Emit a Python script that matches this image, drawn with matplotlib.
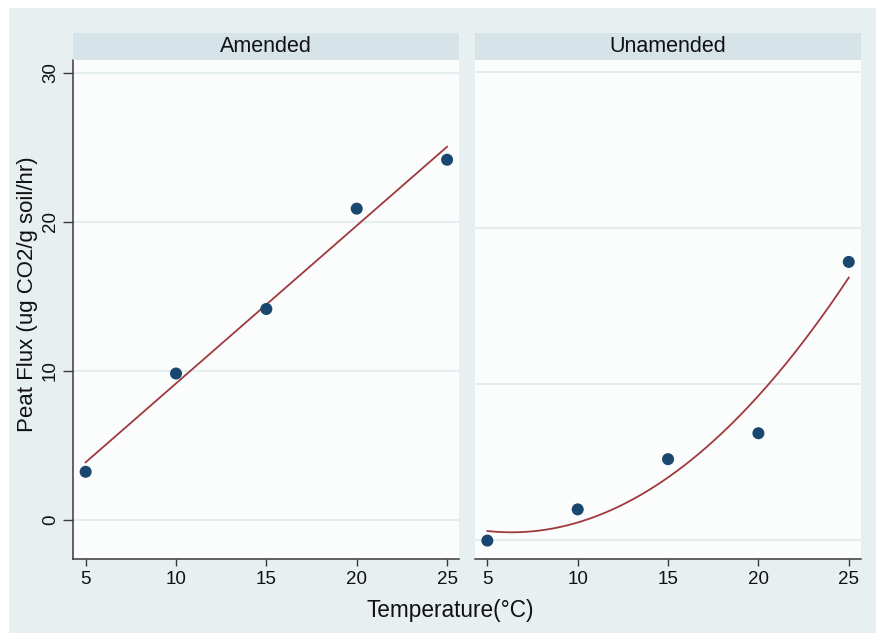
import numpy as np
import matplotlib.pyplot as plt
from matplotlib.patches import Rectangle

plt.rcParams["font.family"] = ["Liberation Sans", "DejaVu Sans"]

# ── Data ──────────────────────────────────────────────────────────────────────
temperature = [5, 10, 15, 20, 25]
amended_flux = [3.23, 9.82, 14.15, 20.88, 24.16]
unamended_flux = [-0.02, 0.98, 2.59, 3.42, 8.91]   # right panel has no y labels
panel_titles = ["Amended", "Unamended"]
x_ticks = [5, 10, 15, 20, 25]
left_yticks = [0, 10, 20, 30]
right_ygrid = [0, 5, 10, 15]

# ── Style ─────────────────────────────────────────────────────────────────────
BG = "#e8eff0"
STRIP = "#d6e4ea"
PLOT_BG = "#fbfcfc"
GRID = "#e4edf0"
NAVY = "#1a476f"
MAROON = "#a0393e"
AXIS = "#3a3a3a"

W, H = 876, 633
fig = plt.figure(figsize=(W / 100, H / 100), dpi=100, facecolor="white")
fig.patches.append(Rectangle((9 / W, 0), 1 - 9 / W, 1 - 8 / H,
                             transform=fig.transFigure, facecolor=BG,
                             edgecolor="none", zorder=-10))

bottom = 1 - 558.7 / H
top = 1 - 60 / H
strip_top = 1 - 33 / H
panels = [(73 / W, 459 / W), (474.7 / W, 860.7 / W)]

axes = []
for (x0, x1) in panels:
    ax = fig.add_axes([x0, bottom, x1 - x0, top - bottom])
    ax.set_facecolor(PLOT_BG)
    axes.append(ax)
    # strip title
    sax = fig.add_axes([x0, top, x1 - x0, strip_top - top])
    sax.set_facecolor(STRIP)
    sax.set_xticks([])
    sax.set_yticks([])
    for s in sax.spines.values():
        s.set_visible(False)
    sax.text(0.5, 0.5, panel_titles[len(axes) - 1], ha="center", va="center",
             fontsize=15.5, color="#111111", transform=sax.transAxes)

xx = np.linspace(5, 25, 200)
for ax, flux, deg in [(axes[0], amended_flux, 1), (axes[1], unamended_flux, 2)]:
    coef = np.polyfit(temperature, flux, deg)
    ax.plot(xx, np.polyval(coef, xx), color=MAROON, lw=1.3, zorder=2)
    ax.scatter(temperature, flux, s=75, color=NAVY, zorder=3, edgecolors="none")
    ax.set_xlim(4.3, 25.66)
    ax.set_xticks(x_ticks)
    ax.tick_params(axis="x", length=5, width=1, color=AXIS, labelsize=13.5,
                   pad=4, labelcolor="#111111")
    for side in ["top", "right"]:
        ax.spines[side].set_visible(False)
    ax.spines["bottom"].set_color(AXIS)
    ax.spines["bottom"].set_linewidth(1.1)
    ax.spines["left"].set_color(AXIS)
    ax.spines["left"].set_linewidth(1.1)
    ax.grid(axis="y", color=GRID, lw=1.5, zorder=0)
    ax.set_axisbelow(True)

# left panel y axis
axes[0].set_ylim(-2.6, 30.85)
axes[0].set_yticks(left_yticks)
axes[0].tick_params(axis="y", length=7, width=1, color=AXIS, labelsize=13.5,
                    labelrotation=90, pad=3, labelcolor="#111111")
for lab in axes[0].get_yticklabels():
    lab.set_va("center")

# right panel: own scale, no labels
axes[1].set_ylim(-0.6, 15.38)
axes[1].set_yticks(right_ygrid)
axes[1].tick_params(axis="y", length=0, labelleft=False)
axes[1].spines["left"].set_visible(False)

fig.text(27.5 / W, 1 - 294 / H, "Peat Flux (ug CO2/g soil/hr)", rotation=90,
         ha="center", va="center", fontsize=16, color="#111111")
fig.text(450 / W, 1 - 611 / H, "Temperature(°C)", ha="center",
         va="center", fontsize=16.3, color="#111111")

fig.savefig("out.png", dpi=100, facecolor="white")
